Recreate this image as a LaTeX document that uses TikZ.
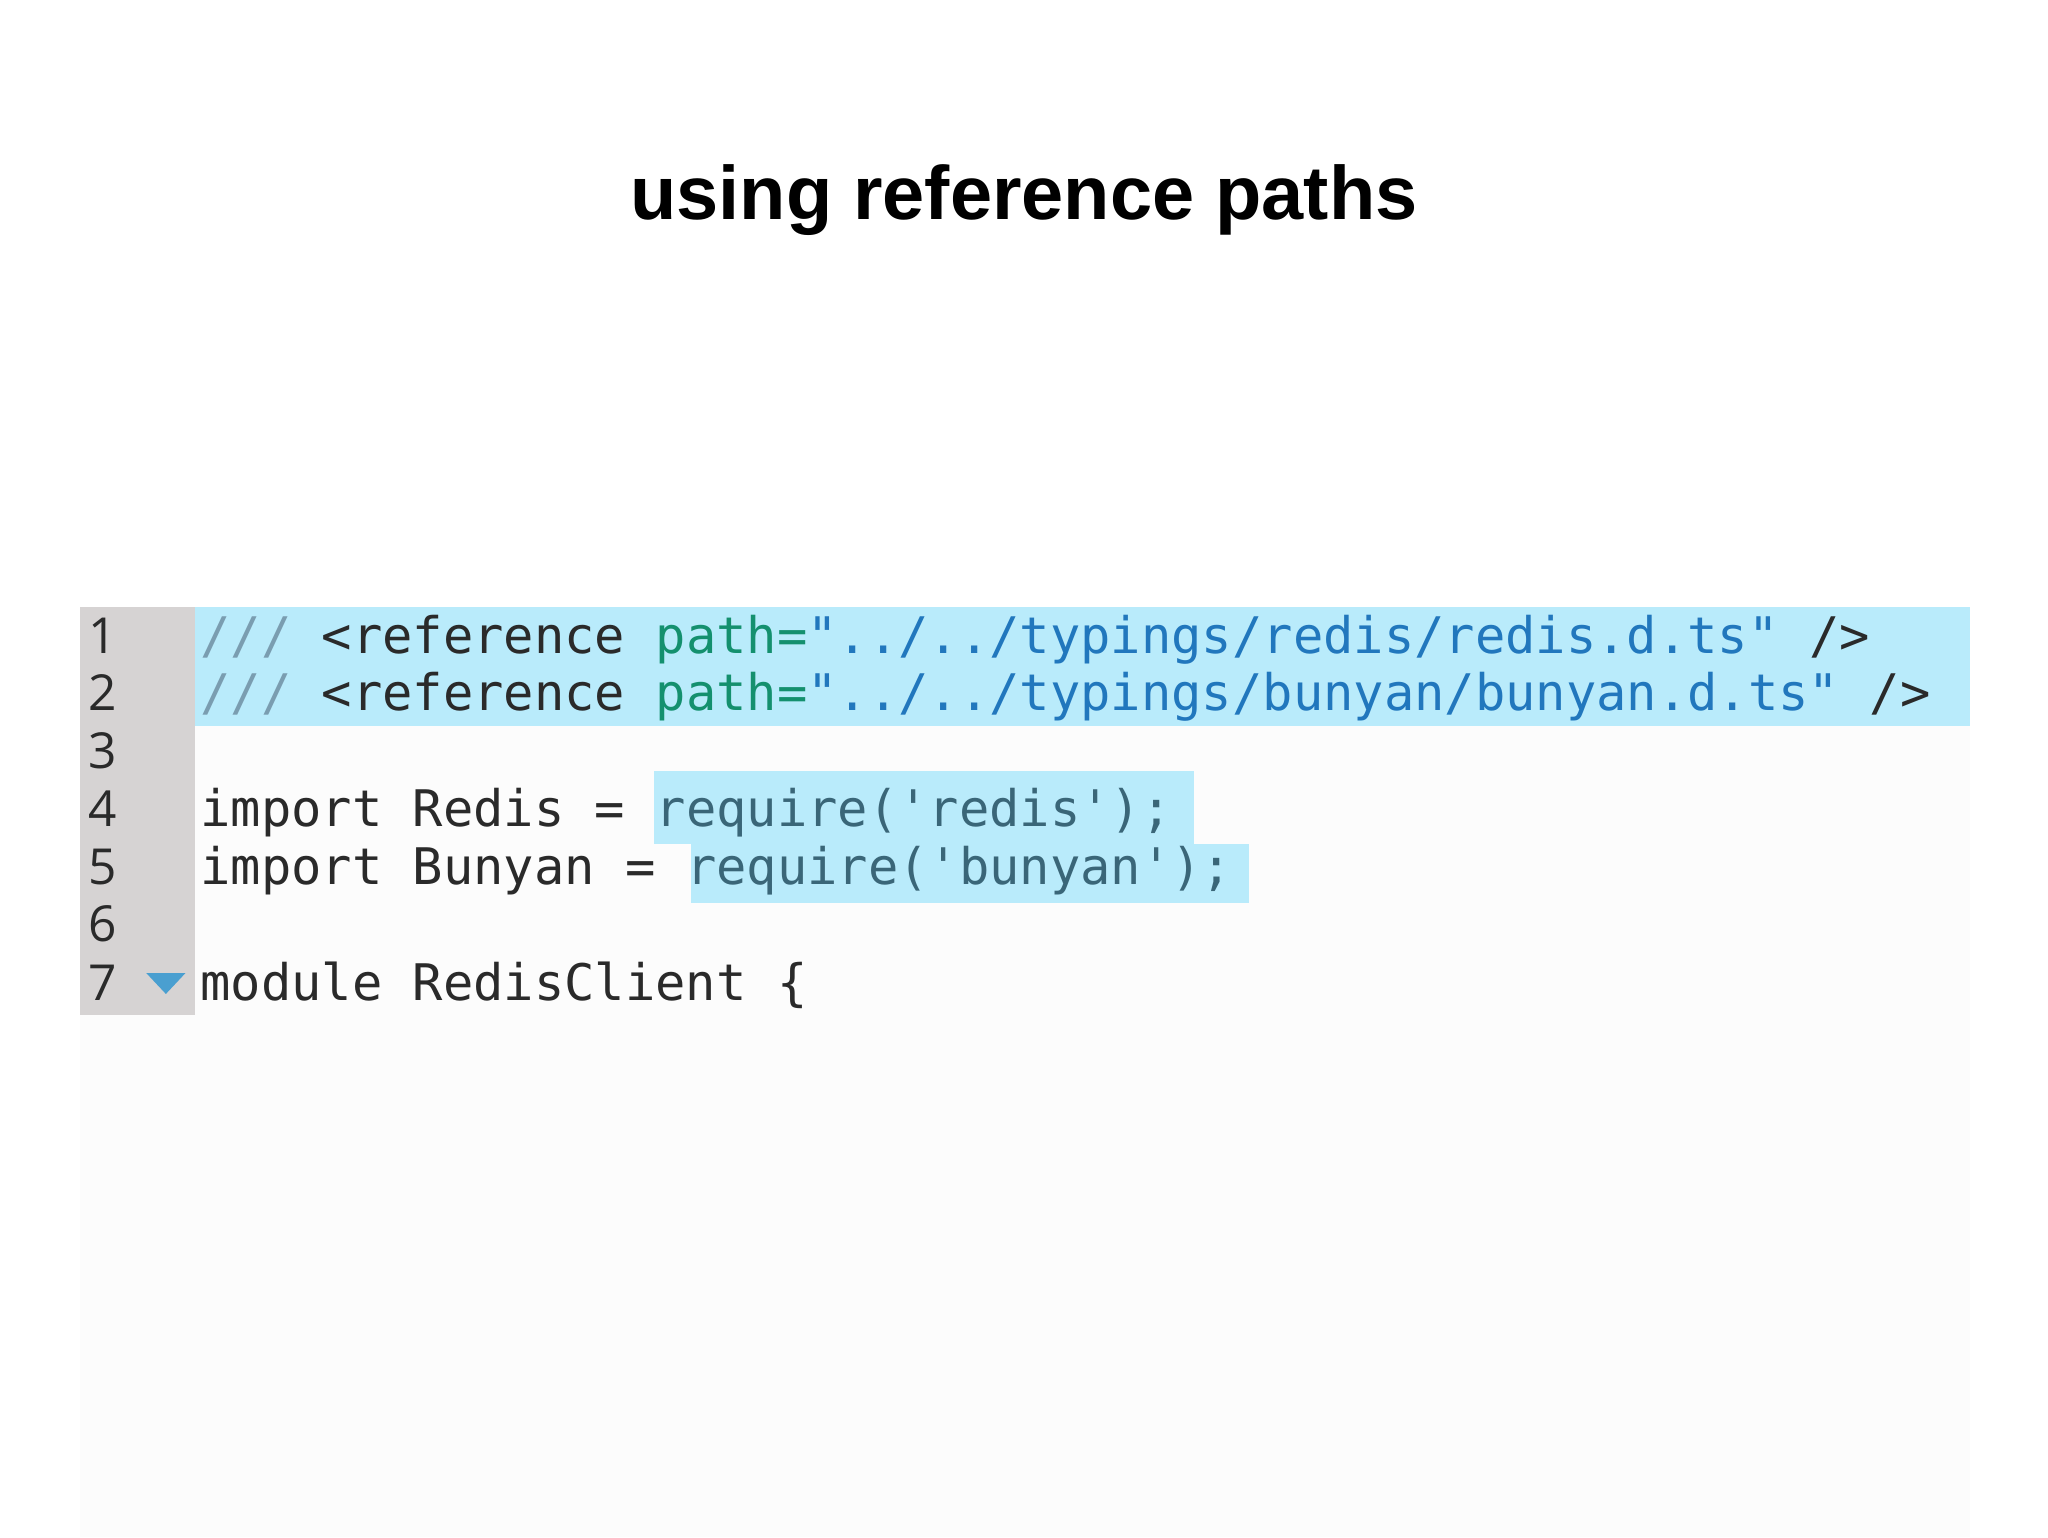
\documentclass[tikz,border=0pt]{standalone}
\usepackage{fontspec}
\setmainfont{Liberation Sans}
\newfontfamily\codefont{DejaVu Sans Mono}
\newfontfamily\numfont{Open Sans}
\definecolor{gut}{HTML}{D6D3D3}
\definecolor{hl}{HTML}{B9EBFB}
\definecolor{panel}{HTML}{FCFCFC}
\definecolor{cmt}{HTML}{7A9DB0}
\definecolor{kw}{HTML}{2A2A2A}
\definecolor{grn}{HTML}{14906E}
\definecolor{str}{HTML}{2177BD}
\definecolor{req}{HTML}{3A6678}
\definecolor{tri}{HTML}{4A9FD0}
\begin{document}
\begin{tikzpicture}[x=0.5pt,y=-0.5pt,
  code/.style={anchor=base west,inner sep=0,font=\codefont\fontsize{19.3}{20}\selectfont},
  num/.style={anchor=base west,inner sep=0,font=\numfont\fontsize{19}{20}\selectfont,text=kw}]
\useasboundingbox (0,0) rectangle (1568,1177);
\fill[white] (0,0) rectangle (1568,1177);
\fill[panel] (61,465) rectangle (1508,1177);
\fill[gut] (61,465) rectangle (149,777);
\fill[hl] (149,465) rectangle (1508,556);
\fill[hl] (501,590) rectangle (914,646);
\fill[hl] (529,646) rectangle (956,691);
\node[anchor=base,inner sep=0,font=\bfseries\fontsize{29}{30}\selectfont] (title) at (784,168) {using reference paths};
\foreach \i/\y in {1/500,2/544,3/588,4/633,5/677,6/721,7/766}{
  \node[num] (n\i) at (67,\y) {\i};}
\node[code] (l1) at (153,500) {\textcolor{cmt}{///} \textcolor{kw}{<reference} \textcolor{grn}{path=}\textcolor{str}{"../../typings/redis/redis.d.ts"} \textcolor{kw}{/>}};
\node[code] (l2) at (153,544) {\textcolor{cmt}{///} \textcolor{kw}{<reference} \textcolor{grn}{path=}\textcolor{str}{"../../typings/bunyan/bunyan.d.ts"} \textcolor{kw}{/>}};
\node[code] (l4) at (153,633) {\textcolor{kw}{import Redis =} \textcolor{req}{require('redis');}};
\node[code] (l5) at (153,677) {\textcolor{kw}{import Bunyan =} \textcolor{req}{require('bunyan');}};
\node[code] (l7) at (153,766) {\textcolor{kw}{module RedisClient \{}};
\fill[tri] (112,745) -- (142,745) -- (127,761) -- cycle;
\end{tikzpicture}
\end{document}
